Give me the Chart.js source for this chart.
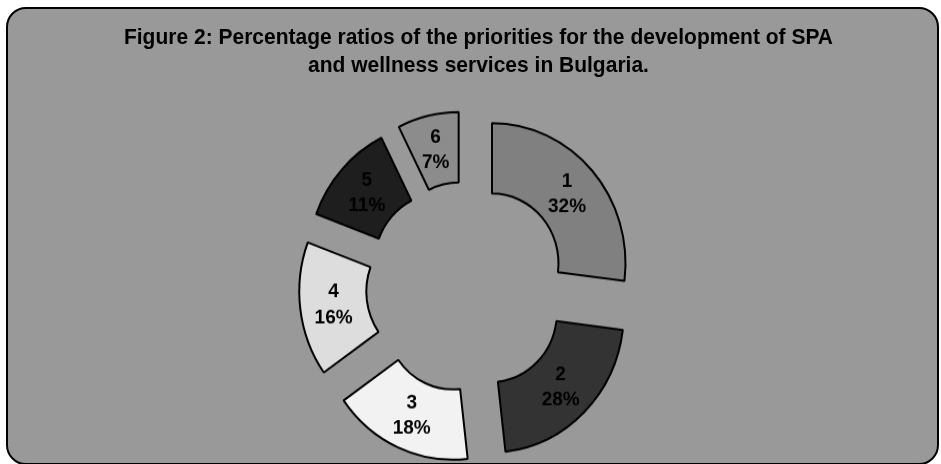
<!DOCTYPE html>
<html><head><meta charset="utf-8">
<script src="https://cdn.jsdelivr.net/npm/chart.js@4.4.1/dist/chart.umd.min.js"></script>
<style>
html,body{margin:0;padding:0;width:941px;height:464px;overflow:hidden;background:#fff;}
#frame{position:absolute;left:6px;top:7px;width:933px;height:458px;box-sizing:border-box;border:2px solid #000;border-radius:20px;background:#999999;}
#stage{position:absolute;left:0;top:0;width:941px;height:442px;transform:scaleY(1.05);transform-origin:0 0;}
#wrap{position:absolute;left:0;top:0;width:941px;height:442px;}
#title{position:absolute;left:16px;width:925px;top:21px;font:bold 21px/27.3px "Liberation Sans",Arial,sans-serif;color:#000;text-align:center;white-space:nowrap;}
</style></head>
<body>
<div id="frame"></div>
<div id="stage">
  <div id="wrap"><canvas id="c"></canvas></div>
  <div id="title"></div>
</div>
<script>
const titleLines = ['Figure 2: Percentage ratios of the priorities for the development of SPA', 'and wellness services in Bulgaria.'];
const categories = ['1', '2', '3', '4', '5', '6'];
const sliceShares = [27.0, 21.2, 17.0, 15.5, 11.9, 7.4];
const percentLabels = ['32%', '28%', '18%', '16%', '11%', '7%'];
const sliceColors = ['#808080', '#333333', '#f2f2f2', '#dddddd', '#1e1e1e', '#8c8c8c'];

document.getElementById('title').innerHTML = titleLines.join('<br>');

const EXPLODE = 34;

const explodePlugin = {
  id: 'explode',
  afterDatasetUpdate(chart, args) {
    args.meta.data.forEach(el => {
      const mid = (el.startAngle + el.endAngle) / 2;
      el.x += Math.cos(mid) * EXPLODE;
      el.y += Math.sin(mid) * EXPLODE;
    });
  }
};

const labelPlugin = {
  id: 'sliceLabels',
  afterDatasetsDraw(chart) {
    const ctx = chart.ctx;
    const meta = chart.getDatasetMeta(0);
    ctx.save();
    ctx.font = 'bold 19px "Liberation Sans", Arial, sans-serif';
    ctx.fillStyle = '#000';
    ctx.textAlign = 'center';
    ctx.textBaseline = 'middle';
    meta.data.forEach((el, i) => {
      const mid = (el.startAngle + el.endAngle) / 2;
      const r = (el.innerRadius + el.outerRadius) / 2;
      const x = el.x + Math.cos(mid) * r;
      const y = el.y + Math.sin(mid) * r;
      ctx.fillText(categories[i], x, y - 12.25);
      ctx.fillText(percentLabels[i], x, y + 12.25);
    });
    ctx.restore();
  }
};

new Chart(document.getElementById('c'), {
  type: 'doughnut',
  data: {
    labels: categories,
    datasets: [{
      data: sliceShares,
      backgroundColor: sliceColors,
      borderColor: '#000',
      borderWidth: 2,
      clip: false
    }]
  },
  options: {
    responsive: true,
    maintainAspectRatio: false,
    animation: false,
    events: [],
    radius: 133.5,
    cutout: '49.8%',
    layout: { padding: { left: 0, right: 8, top: 104.6, bottom: 0 } },
    plugins: { legend: { display: false }, tooltip: { enabled: false }, title: { display: false } }
  },
  plugins: [explodePlugin, labelPlugin]
});
</script>
</body></html>
